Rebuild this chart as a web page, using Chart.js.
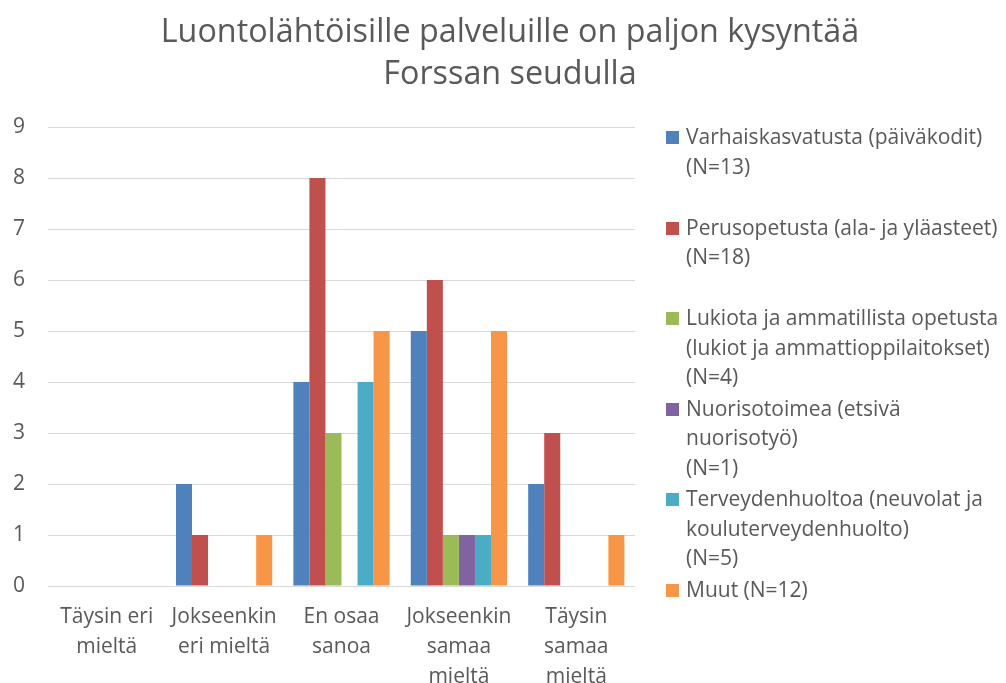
<!DOCTYPE html>
<html>
<head>
<meta charset="utf-8">
<script src="https://cdn.jsdelivr.net/npm/chart.js@4/dist/chart.umd.min.js"></script>
<style>
  html, body { margin: 0; padding: 0; background: #fff; }
  #wrap { position: relative; width: 1006px; height: 683px; }
  #legend { position: absolute; left: 666px; top: 122px; font-family: "Open Sans", sans-serif; font-size: 21px; color: #595959; }
  .item { position: relative; height: 90.6px; padding-left: 20px; line-height: 29.5px; white-space: nowrap; }
  .sw { position: absolute; left: 0; top: 9px; width: 13px; height: 13px; }
</style>
</head>
<body>
<div id="wrap">
  <canvas id="chart" width="1006" height="683"></canvas>
  <div id="legend"></div>
</div>
<script>
const categories = [
  ['Täysin eri', 'mieltä'],
  ['Jokseenkin', 'eri mieltä'],
  ['En osaa', 'sanoa'],
  ['Jokseenkin', 'samaa', 'mieltä'],
  ['Täysin', 'samaa', 'mieltä']
];
const seriesNames = [
  ['Varhaiskasvatusta (päiväkodit)', '(N=13)'],
  ['Perusopetusta (ala- ja yläasteet)', '(N=18)'],
  ['Lukiota ja ammatillista opetusta', '(lukiot ja ammattioppilaitokset)', '(N=4)'],
  ['Nuorisotoimea (etsivä', 'nuorisotyö)', '(N=1)'],
  ['Terveydenhuoltoa (neuvolat ja', 'kouluterveydenhuolto)', '(N=5)'],
  ['Muut (N=12)']
];
const titleLines = ['Luontolähtöisille palveluille on paljon kysyntää', 'Forssan seudulla'];
const varhaiskasvatus = [0, 2, 4, 5, 2];
const perusopetus = [0, 1, 8, 6, 3];
const lukio = [0, 0, 3, 1, 0];
const nuorisotoimi = [0, 0, 0, 1, 0];
const terveydenhuolto = [0, 0, 4, 1, 0];
const muut = [0, 1, 5, 5, 1];
const colors = ['#4F81BD', '#C0504D', '#9BBB59', '#8064A2', '#4BACC6', '#F79646'];

const seriesValues = [varhaiskasvatus, perusopetus, lukio, nuorisotoimi, terveydenhuolto, muut];
const FONT = '"Open Sans", sans-serif';
const GREY = '#595959';

// title centred on the whole canvas, not just the plot area
const pageTitle = {
  id: 'pageTitle',
  afterDraw(chart) {
    const ctx = chart.ctx;
    ctx.save();
    ctx.fillStyle = GREY;
    ctx.font = '32.3px ' + FONT;
    ctx.textAlign = 'center';
    ctx.textBaseline = 'middle';
    titleLines.forEach((t, i) => ctx.fillText(t, chart.width / 2 + 7, 33 + i * 42));
    ctx.restore();
  }
};

const chart = new Chart(document.getElementById('chart'), {
  type: 'bar',
  data: {
    labels: categories,
    datasets: seriesValues.map((vals, i) => ({
      label: seriesNames[i].join(' '),
      data: vals,
      backgroundColor: colors[i],
      borderWidth: 0,
      categoryPercentage: 0.82,
      barPercentage: 1
    }))
  },
  options: {
    responsive: false,
    animation: false,
    layout: { padding: { left: 0, right: 371, top: 127, bottom: 0 } },
    plugins: {
      legend: { display: false },
      tooltip: { enabled: false },
      title: { display: false }
    },
    scales: {
      x: {
        grid: { display: false },
        border: { display: false },
        ticks: {
          color: GREY,
          padding: 8,
          maxRotation: 0,
          autoSkip: false,
          font: { family: FONT, size: 21, lineHeight: 1.42 }
        },
        afterFit: (scale) => { scale.height = 97; }
      },
      y: {
        min: 0,
        max: 9,
        grid: { color: '#D9D9D9', lineWidth: 1, drawTicks: false },
        border: { display: false },
        ticks: {
          stepSize: 1,
          color: GREY,
          padding: 23,
          font: { family: FONT, size: 21 }
        },
        afterFit: (scale) => { scale.width = 48; }
      }
    }
  },
  plugins: [pageTitle]
});

const legend = document.getElementById('legend');
chart.data.datasets.forEach((ds, i) => {
  const item = document.createElement('div');
  item.className = 'item';
  const sw = document.createElement('span');
  sw.className = 'sw';
  sw.style.background = ds.backgroundColor;
  item.appendChild(sw);
  seriesNames[i].forEach((line, j) => {
    if (j > 0) item.appendChild(document.createElement('br'));
    item.appendChild(document.createTextNode(line));
  });
  legend.appendChild(item);
});
</script>
</body>
</html>
